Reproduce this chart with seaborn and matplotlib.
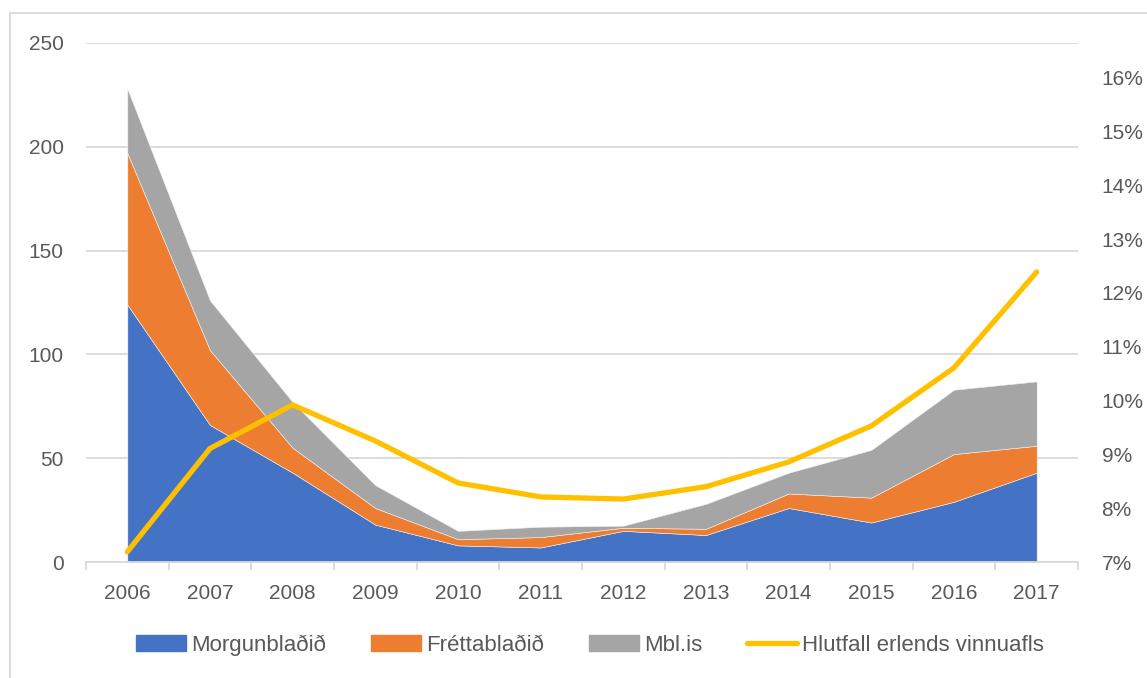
import matplotlib
matplotlib.use("Agg")
import matplotlib.pyplot as plt
import matplotlib.patches as mpatches
import matplotlib.lines as mlines
from matplotlib.ticker import FixedLocator, FuncFormatter
import numpy as np
import pandas as pd
import seaborn as sns

years = ["2006", "2007", "2008", "2009", "2010", "2011",
         "2012", "2013", "2014", "2015", "2016", "2017"]
morgunbladid = [124, 66, 43, 18, 8, 7, 15, 13, 26, 19, 29, 43]
frettabladid = [73, 36, 12, 8, 3, 5, 1.5, 3, 7, 12, 23, 13]
mbl_is = [31, 24, 22, 11, 4, 5, 1, 12, 10, 23, 31, 31]
hlutfall = [0.0719, 0.0911, 0.0992, 0.0925, 0.0847, 0.0821,
            0.0817, 0.0840, 0.0886, 0.0953, 0.1061, 0.1239]

series_names = ["Morgunblaðið", "Fréttablaðið", "Mbl.is"]
line_name = "Hlutfall erlends vinnuafls"
colors = ["#4472C4", "#ED7D31", "#A5A5A5"]
line_color = "#FFC000"
text_color = "#595959"
grid_color = "#D9D9D9"

sns.set_theme(style="white")
plt.rcParams["font.family"] = ["Liberation Sans", "DejaVu Sans"]

W, H = 1147, 678
fig = plt.figure(figsize=(W / 100, H / 100), dpi=100)
ax = fig.add_axes([86 / W, (H - 562) / H, (1078 - 86) / W, (562 - 43) / H])

x = np.arange(len(years))
ax.stackplot(x, morgunbladid, frettabladid, mbl_is, colors=colors,
             linewidth=0.4, edgecolor="#F2F2F2", zorder=2)

ax.set_xlim(-0.5, len(years) - 0.5)
ax.set_ylim(0, 250)
ax.set_yticks([0, 50, 100, 150, 200, 250])
ax.yaxis.grid(True, color=grid_color, linewidth=1.3, zorder=0)
ax.set_axisbelow(True)
for s in ["top", "right", "left"]:
    ax.spines[s].set_visible(False)
ax.spines["bottom"].set_color(grid_color)
ax.spines["bottom"].set_linewidth(1.3)
ax.spines["bottom"].set_zorder(3)

ax.set_xticks(x)
ax.set_xticklabels(years)
ax.xaxis.set_minor_locator(FixedLocator(np.arange(-0.5, len(years), 1)))
ax.tick_params(axis="x", which="major", length=0, pad=16, labelsize=15,
               labelcolor=text_color)
ax.tick_params(axis="x", which="minor", length=6, width=1.3, color=grid_color,
               direction="out", bottom=True)
ax.tick_params(axis="y", length=0, pad=16, labelsize=15, labelcolor=text_color)

ax2 = ax.twinx()
df_line = pd.DataFrame({"x": x, "val": hlutfall})
sns.lineplot(data=df_line, x="x", y="val", ax=ax2, color=line_color,
             linewidth=3.8, solid_capstyle="round", solid_joinstyle="miter",
             zorder=5)
ax2.set_ylim(0.07, 0.07 + 519 / 53.8 / 100)
ax2.set_yticks([0.07 + 0.01 * i for i in range(10)])
ax2.yaxis.set_major_formatter(FuncFormatter(lambda v, p: f"{round(v * 100):d}%"))
ax2.tick_params(axis="y", length=0, pad=17, labelsize=15, labelcolor=text_color)
ax2.set_xlabel("")
ax2.set_ylabel("")
ax.set_xlabel("")
ax.set_ylabel("")
for s in ax2.spines.values():
    s.set_visible(False)
ax2.set_xlim(-0.5, len(years) - 0.5)

handles = [mpatches.Patch(color=c, label=n) for c, n in zip(colors, series_names)]
handles.append(mlines.Line2D([], [], color=line_color, linewidth=3.8,
                             solid_capstyle="round", label=line_name))
leg = fig.legend(handles=handles, loc="center", bbox_to_anchor=(590 / W, (H - 645) / H),
                 ncol=4, frameon=False, fontsize=16, handlelength=2.25,
                 handleheight=0.75, handletextpad=0.25, columnspacing=2.0,
                 labelcolor=text_color)

border = mpatches.Rectangle((10 / W, -0.05), 1.2, (H - 13) / H + 0.05,
                            transform=fig.transFigure, fill=False,
                            edgecolor=grid_color, linewidth=1.3)
fig.patches.append(border)

fig.savefig("out.png", dpi=100)
